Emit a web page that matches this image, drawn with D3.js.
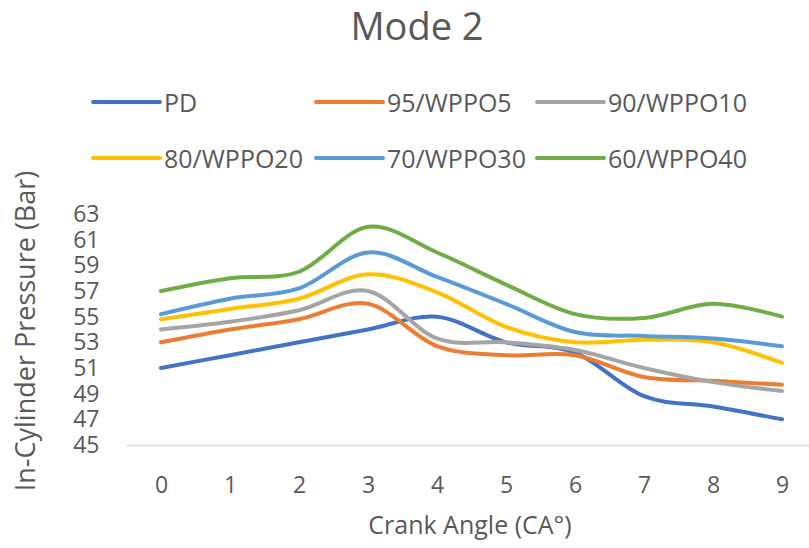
<!DOCTYPE html>
<html>
<head>
<meta charset="utf-8">
<script src="https://cdn.jsdelivr.net/npm/d3@7"></script>
<style>
  body { margin: 0; background: #fff; }
  svg { font-family: "Open Sans", sans-serif; }
</style>
</head>
<body>
<script>
// Mode 2 - in-cylinder pressure vs crank angle
const crankAngles = [0, 1, 2, 3, 4, 5, 6, 7, 8, 9];
const seriesNames = ["PD", "95/WPPO5", "90/WPPO10", "80/WPPO20", "70/WPPO30", "60/WPPO40"];
const pd      = [51, 52, 53, 54, 55, 53, 52.2, 48.8, 48, 47];
const wppo5   = [53, 54, 54.8, 56, 52.7, 52, 52, 50.3, 50, 49.7];
const wppo10  = [54, 54.6, 55.5, 57, 53.3, 53, 52.4, 51, 49.9, 49.2];
const wppo20  = [54.8, 55.6, 56.4, 58.3, 56.9, 54.2, 53, 53.2, 53, 51.4];
const wppo30  = [55.2, 56.4, 57.2, 60, 58.1, 56, 53.8, 53.5, 53.3, 52.7];
const wppo40  = [57, 58, 58.5, 62, 60, 57.5, 55.2, 54.9, 56, 55];
const yTicks = [45, 47, 49, 51, 53, 55, 57, 59, 61, 63];

const seriesValues = [pd, wppo5, wppo10, wppo20, wppo30, wppo40];
const colors = ["#4472C4", "#ED7D31", "#A5A5A5", "#FFC000", "#5B9BD5", "#70AD47"];
const textColor = "#595959";

const svg = d3.select("body").append("svg").attr("width", 809).attr("height", 548);

const x = d3.scalePoint().domain(crankAngles).range([126.5, 816.5]).padding(0.5);
const y = d3.scaleLinear().domain([45, 63]).range([445, 214]);

// title
svg.append("text")
    .attr("x", 417).attr("y", 40)
    .attr("text-anchor", "middle")
    .attr("font-size", 38)
    .attr("fill", textColor)
    .text("Mode 2");

// legend, 3 per row
const legend = svg.selectAll("g.legend")
    .data(seriesNames)
    .enter().append("g")
      .attr("class", "legend")
      .attr("transform", function(d, i){ return "translate(" + [93, 316, 537][i % 3] + "," + (102 + Math.floor(i / 3) * 56) + ")"; });
legend.append("line")
    .attr("x1", 0).attr("x2", 67)
    .attr("stroke", function(d, i){ return colors[i]; })
    .attr("stroke-width", 4)
    .attr("stroke-linecap", "round");
legend.append("text")
    .attr("x", 71)
    .attr("dominant-baseline", "central")
    .attr("font-size", 25)
    .attr("fill", textColor)
    .text(function(d){ return d; });

// x axis
const xAxis = svg.append("g")
    .attr("transform", "translate(0,445)")
    .call(d3.axisBottom(x).tickSize(0).tickPadding(32));
xAxis.select(".domain").attr("stroke", "#d9d9d9").attr("stroke-width", 1.5);
xAxis.selectAll("text").attr("font-size", 23).attr("fill", textColor).attr("font-family", "Open Sans");

// y axis, no line
const yAxis = svg.append("g")
    .attr("transform", "translate(126.5,0)")
    .call(d3.axisLeft(y).tickValues(yTicks).tickSize(0).tickPadding(27));
yAxis.select(".domain").remove();
yAxis.selectAll("text").attr("font-size", 23).attr("fill", textColor).attr("font-family", "Open Sans");

// axis titles
svg.append("text")
    .attr("x", 470).attr("y", 534)
    .attr("text-anchor", "middle")
    .attr("font-size", 25)
    .attr("fill", textColor)
    .text("Crank Angle (CA°)");
svg.append("text")
    .attr("transform", "translate(35,331) rotate(-90)")
    .attr("text-anchor", "middle")
    .attr("font-size", 27)
    .attr("fill", textColor)
    .text("In-Cylinder Pressure (Bar)");

// smoothed lines like excel
const line = d3.line()
    .x(function(d, i){ return x(crankAngles[i]); })
    .y(function(d){ return y(d); })
    .curve(d3.curveCardinal.tension(0));

svg.selectAll("path.series")
    .data(seriesValues)
    .enter().append("path")
      .attr("class", "series")
      .attr("d", line)
      .attr("fill", "none")
      .attr("stroke", function(d, i){ return colors[i]; })
      .attr("stroke-width", 4)
      .attr("stroke-linecap", "round");
</script>
</body>
</html>
